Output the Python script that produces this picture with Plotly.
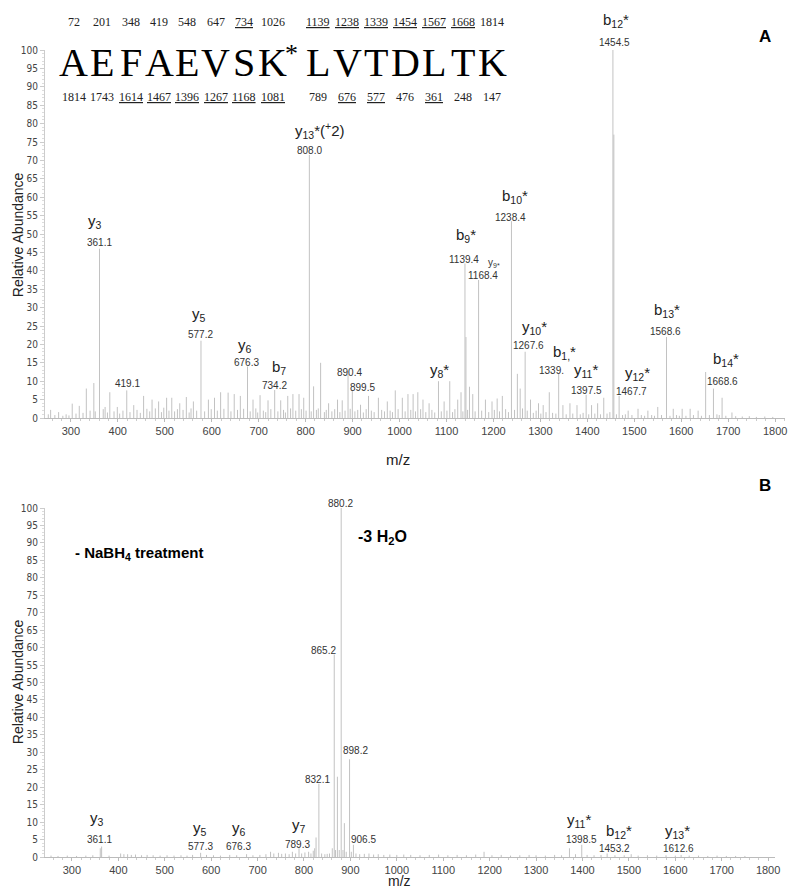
import plotly.graph_objects as go

# ---- panel A: MS/MS spectrum (m/z, relative abundance) ----
mz_a = [252, 257, 266, 274, 283, 290, 296, 303, 311, 318, 326, 333, 341, 349, 352,
        361.1, 369, 373, 378, 383, 392, 399, 404, 411, 419.1, 426, 434, 441, 448, 455,
        462, 468, 473, 480, 487, 493, 498, 504, 509, 515, 521, 527, 532, 539, 546,
        552, 556, 561, 568, 577.2, 585, 593, 599, 606, 612, 619, 626, 635, 641, 648,
        655, 661, 668, 676.3, 682, 688, 694, 698, 703, 710, 715, 720, 726, 734.2, 741,
        747, 753, 757, 762, 768, 773, 779, 786, 791, 796, 801, 808.0, 812, 817, 823,
        827, 832, 840, 844, 849, 856, 862, 868, 873, 878, 884, 890.4, 895, 899.5, 905,
        911, 917, 923, 929, 934, 940, 946, 955, 962, 968, 974, 980, 985, 991, 997,
        1006, 1012, 1018, 1024, 1029, 1034, 1039, 1045, 1050, 1056, 1063, 1069, 1075, 1083, 1089,
        1095, 1101, 1107, 1113, 1118, 1124, 1131, 1135, 1139.4, 1141.5, 1145, 1149, 1156, 1161, 1168.4,
        1175, 1183, 1190, 1197, 1202, 1208, 1213, 1219, 1226, 1232, 1238.4, 1245, 1251, 1257, 1262,
        1267.6, 1272, 1279, 1285, 1291, 1296, 1301, 1306, 1312, 1319, 1326, 1333, 1339, 1348, 1355,
        1363, 1369, 1378, 1385, 1391, 1397.5, 1403, 1409, 1416, 1422, 1428, 1435, 1442, 1448, 1454.5,
        1456.5, 1462, 1467.7, 1475, 1481, 1487, 1495, 1508, 1515, 1522, 1529, 1537, 1543, 1550, 1558,
        1568.6, 1576, 1583, 1590, 1596, 1602, 1610, 1619, 1626, 1636, 1643, 1652, 1660, 1668.6, 1676,
        1681, 1687, 1695, 1708, 1716, 1730, 1745, 1760, 1778, 1795]
int_a = [1.0, 2.2, 0.8, 1.6, 0.6, 1.0, 0.7, 3.9, 1.2, 3.3, 1.4, 8.0, 2.0, 9.5, 1.8,
         46.0, 2.4, 3.0, 1.5, 7.0, 1.8, 3.0, 1.2, 2.0, 7.5, 1.6, 3.5, 2.2, 1.4, 6.0,
         2.5, 1.8, 5.0, 2.6, 4.5, 1.6, 2.8, 5.5, 2.0, 5.5, 1.8, 2.4, 4.0, 2.2, 5.7,
         1.5, 2.6, 4.5, 2.0, 21.0, 1.8, 5.0, 2.4, 5.5, 2.0, 7.0, 2.5, 6.9, 1.8, 6.5,
         2.2, 6.0, 2.5, 14.0, 1.8, 5.0, 2.6, 1.5, 6.2, 2.0, 1.6, 4.8, 2.4, 7.6, 1.8,
         4.8, 2.2, 1.5, 6.0, 2.6, 6.5, 2.0, 6.5, 2.4, 5.5, 2.0, 71.5, 1.8, 8.6, 2.2,
         2.6, 15.0, 1.6, 2.2, 4.0, 1.8, 2.4, 5.0, 1.6, 4.8, 2.0, 12.0, 2.5, 7.5, 1.8,
         2.2, 3.6, 1.5, 2.4, 6.0, 2.0, 1.6, 5.5, 2.2, 1.8, 4.5, 2.0, 1.6, 7.5, 2.4,
         5.5, 1.8, 6.5, 2.2, 6.5, 1.8, 7.0, 2.4, 5.0, 1.6, 4.0, 2.2, 1.5, 10.0, 1.8,
         4.5, 2.0, 10.0, 1.6, 2.4, 5.0, 7.0, 1.8, 42.0, 22.0, 2.2, 8.5, 6.5, 1.8, 37.5,
         2.0, 5.0, 1.6, 4.5, 2.2, 5.3, 1.8, 6.0, 2.4, 1.6, 53.5, 2.2, 12.0, 8.0, 2.6,
         18.0, 2.0, 5.0, 1.4, 2.0, 4.0, 1.2, 3.5, 1.6, 7.0, 1.4, 1.2, 12.0, 3.5, 1.0,
         4.0, 1.2, 3.5, 1.0, 1.4, 6.3, 1.0, 3.5, 1.2, 4.0, 1.0, 5.5, 1.2, 1.6, 100.0,
         77.0, 1.0, 6.0, 0.8, 1.0, 2.0, 0.8, 2.5, 0.8, 0.6, 2.0, 0.8, 0.6, 3.0, 0.8,
         22.0, 0.6, 2.5, 0.8, 0.6, 2.5, 0.6, 2.5, 0.8, 2.0, 0.6, 12.5, 0.8, 8.0, 1.0,
         0.8, 5.5, 0.6, 1.5, 0.5, 0.4, 0.5, 0.3, 0.4, 0.3]

# ---- panel B: after NaBH4 treatment ----
mz_b = [255, 270, 290, 310, 330, 345, 361.1, 364, 380, 405, 412, 420, 428, 437, 450,
        462, 475, 490, 505, 520, 535, 548, 560, 577.3, 590, 605, 620, 640, 655, 676.3,
        690, 705, 718, 728, 735, 745, 752, 760, 768, 775, 782, 789.3, 795, 802, 810,
        815, 820, 823, 826, 832.1, 838, 845, 850, 855, 861, 865.2, 868, 872, 876, 880.2,
        884, 887, 891, 898.2, 902, 906.5, 912, 920, 930, 940, 950, 960, 972, 985, 1000,
        1015, 1030, 1050, 1070, 1090, 1110, 1130, 1150, 1170, 1188, 1205, 1225, 1245, 1265, 1285,
        1300, 1320, 1340, 1355, 1372, 1385, 1398.5, 1410, 1425, 1440, 1453.2, 1470, 1490, 1505, 1520,
        1540, 1560, 1580, 1600, 1612.6, 1630, 1650, 1670, 1690, 1710, 1730, 1750]
int_b = [0.4, 0.3, 0.4, 0.3, 0.4, 0.5, 2.5, 3.0, 0.4, 1.0, 0.8, 0.8, 0.6, 0.7, 0.5,
         0.6, 0.5, 0.4, 0.5, 0.4, 0.5, 0.4, 0.6, 1.2, 0.6, 0.5, 0.4, 0.6, 0.5, 0.8,
         0.5, 0.6, 0.8, 1.5, 1.0, 1.2, 0.9, 1.0, 0.8, 1.5, 1.0, 2.5, 1.0, 1.3, 1.5,
         1.0, 1.8, 2.5, 5.6, 21.0, 1.0, 0.8, 0.9, 1.0, 2.5, 58.0, 2.0, 23.0, 2.0, 100.0,
         2.0, 9.7, 1.5, 28.0, 1.5, 3.5, 1.0, 0.8, 0.9, 1.0, 0.7, 0.8, 0.6, 0.7, 0.6,
         0.7, 0.6, 0.5, 0.6, 0.7, 0.5, 0.6, 0.5, 0.7, 1.5, 0.5, 0.6, 0.4, 0.5, 0.6,
         0.5, 0.4, 0.6, 0.5, 2.5, 0.8, 3.5, 0.6, 0.5, 0.6, 1.0, 0.5, 0.5, 0.8, 0.4,
         0.5, 0.4, 0.5, 0.4, 0.6, 0.4, 0.4, 0.3, 0.4, 0.3, 0.3, 0.3]

# peptide sequence with b / y fragment masses
seq = ["A", "E", "F", "A", "E", "V", "S", "K", "L", "V", "T", "D", "L", "T", "K"]
b_ions = [72, 201, 348, 419, 548, 647, 734, 1026, 1139, 1238, 1339, 1454, 1567, 1668, 1814]
y_ions = [1814, 1743, 1614, 1467, 1396, 1267, 1168, 1081, 789, 676, 577, 476, 361, 248, 147]
b_seen = [734, 1139, 1238, 1339, 1454, 1567, 1668]
y_seen = [1614, 1467, 1396, 1267, 1168, 1081, 676, 577, 361]

# peak annotations: (text, m/z, abundance, font size, extra px shift up)
labels_a = [
    ("y<sub>3</sub>", 351, 53.3, 15, 0), ("361.1", 361, 47.6, 10, 0),
    ("419.1", 420, 9.5, 10, 0),
    ("y<sub>5</sub>", 573, 28, 15, 0), ("577.2", 577, 22.6, 10, 0),
    ("y<sub>6</sub>", 672, 19.6, 15, 0), ("676.3", 674, 15.2, 10, 0),
    ("b<sub>7</sub>", 744, 13.6, 15, 0), ("734.2", 734, 8.7, 10, 0),
    ("y<sub>13</sub>*(<sup>+</sup>2)", 831, 78, 15, 0), ("808.0", 808, 72.8, 10, 0),
    ("890.4", 894, 12.5, 10, 0), ("899.5", 922, 8.2, 10, 0),
    ("y<sub>8</sub>*", 1085, 13, 15, 0),
    ("b<sub>9</sub>*", 1142, 49.7, 15, 0), ("1139.4", 1138, 43.2, 10, 0),
    ("y<sub>9*</sub>", 1201, 42.1, 10, 0), ("1168.4", 1178, 38.6, 10, 0),
    ("b<sub>10</sub>*", 1246, 60.3, 15, 0), ("1238.4", 1237, 54.6, 10, 0),
    ("y<sub>10</sub>*", 1288, 24.5, 15, 0), ("1267.6", 1275, 19.6, 10, 0),
    ("b<sub>1,</sub>*", 1351, 17.7, 15, 0), ("1339.", 1324, 13, 10, 0),
    ("y<sub>11</sub>*", 1398, 13, 15, 0), ("1397.5", 1398, 7.6, 10, 0),
    ("b<sub>12</sub>*", 1461, 100, 15, 30), ("1454.5", 1457, 100, 10, 8),
    ("y<sub>12</sub>*", 1506, 12.2, 15, 0), ("1467.7", 1495, 7.3, 10, 0),
    ("b<sub>13</sub>*", 1569, 29.3, 15, 0), ("1568.6", 1567, 23.6, 10, 0),
    ("b<sub>14</sub>*", 1696, 15.8, 15, 0), ("1668.6", 1688, 9.8, 10, 0),
]
labels_b = [
    ("880.2", 879, 100, 10, 5), ("865.2", 843, 59.3, 10, 0), ("898.2", 911, 30.4, 10, 0),
    ("832.1", 830, 22.3, 10, 0), ("906.5", 928, 4.9, 10, 0),
    ("y<sub>3</sub>", 355, 10.9, 15, 0), ("361.1", 359, 4.9, 10, 0),
    ("y<sub>5</sub>", 575, 8.3, 15, 0), ("577.3", 577, 2.9, 10, 0),
    ("y<sub>6</sub>", 661, 8.3, 15, 0), ("676.3", 659, 2.9, 10, 0),
    ("y<sub>7</sub>", 789, 8.9, 15, 0), ("789.3", 787, 3.7, 10, 0),
    ("y<sub>11</sub>*", 1393, 10.6, 15, 0), ("1398.5", 1397, 4.9, 10, 0),
    ("b<sub>12</sub>*", 1478, 7.4, 15, 0), ("1453.2", 1470, 2.3, 10, 0),
    ("y<sub>13</sub>*", 1605, 7.4, 15, 0), ("1612.6", 1607, 2.3, 10, 0),
]


def sticks(mz, ab):
    xs, ys = [], []
    for m, a in zip(mz, ab):
        xs += [m, m, None]
        ys += [0, a, None]
    return xs, ys


# the page body adds an 8px margin, so the figure is 784x880 and sits at (8, 8);
# plot area in window pixels: x 45..790, y 50..857
FW, FH = 784, 880
L, T = 45 - 8, 50 - 8
R, B = FW - (790 - 8), FH - (857 - 8)
W, H = FW - L - R, FH - T - B


def px(x, y):
    # window pixel -> paper coordinates
    return (x - 45) / W, (857 - y) / H


fig = go.Figure()
xa, ya = sticks(mz_a, int_a)
xb, yb = sticks(mz_b, int_b)
fig.add_trace(go.Scatter(x=xa, y=ya, mode="lines", line=dict(color="#c2c2c2", width=1),
                         hoverinfo="skip", xaxis="x", yaxis="y"))
fig.add_trace(go.Scatter(x=xb, y=yb, mode="lines", line=dict(color="#c2c2c2", width=1),
                         hoverinfo="skip", xaxis="x2", yaxis="y2"))

tickfont = dict(family="Liberation Sans Narrow, DejaVu Sans Condensed, sans-serif", size=10, color="#444")
xfont = dict(family="Liberation Sans, Arial, sans-serif", size=11, color="#444")
common_x = dict(dtick=100, tick0=0, showgrid=False, zeroline=False, showline=True,
                linecolor="#bbb", linewidth=1, ticks="outside", ticklen=3, tickcolor="#bbb",
                minor=dict(dtick=20, ticks="outside", ticklen=2, tickcolor="#ccc"),
                tickfont=xfont)
common_y = dict(range=[0, 100], dtick=5, showgrid=False, zeroline=False, showline=True,
                linecolor="#ccc", linewidth=1, ticks="outside", ticklen=4, tickcolor="#ccc",
                minor=dict(dtick=1, ticks="outside", ticklen=2, tickcolor="#ddd"),
                tickfont=tickfont)

ya_bot = (857 - 418) / H
yb_top = (857 - 508) / H
fig.update_layout(
    width=FW, height=FH, margin=dict(l=L, r=R, t=T, b=B),
    plot_bgcolor="white", paper_bgcolor="white", showlegend=False,
    xaxis=dict(domain=[0, 1], anchor="y", range=[245, 1821], **common_x),
    yaxis=dict(domain=[ya_bot, 1], anchor="x", **common_y),
    xaxis2=dict(domain=[0, (780 - 45) / W], anchor="y2", range=[242, 1815], **common_x),
    yaxis2=dict(domain=[0, yb_top], anchor="x2", **common_y),
)

ann = []
lab_font = "Liberation Sans, Arial, sans-serif"
for labels, xr, yr in [(labels_a, "x", "y"), (labels_b, "x2", "y2")]:
    for text, x, y, s, up in labels:
        ann.append(dict(text=text, x=x, y=y, xref=xr, yref=yr, showarrow=False,
                        xanchor="center", yanchor="middle", yshift=up,
                        font=dict(family=lab_font, size=s, color="#222" if s > 12 else "#333")))


def paper_text(text, xx, yy, size, family, color="black", anchor="center", angle=0):
    x0, y0 = px(xx, yy)
    ann.append(dict(text=text, x=x0, y=y0, xref="paper", yref="paper", showarrow=False,
                    xanchor=anchor, yanchor="middle", textangle=angle,
                    font=dict(family=family, size=size, color=color)))


# sequence with fragment masses
serif = "Liberation Serif, Times New Roman, serif"
for i, aa in enumerate(seq):
    xp = 74 + 28.6 * i if i < 8 else 320 + 29.2 * (i - 8)
    paper_text(aa, xp, 63, 40, serif)
    bt = str(b_ions[i])
    if b_ions[i] in b_seen:
        bt = "<u>" + bt + "</u>"
    paper_text(bt, xp, 22, 12, serif, "#222")
    yt = str(y_ions[i])
    if y_ions[i] in y_seen:
        yt = "<u>" + yt + "</u>"
    paper_text(yt, xp, 97, 12, serif, "#222")
paper_text("*", 293, 53, 26, serif)

bold = "Liberation Sans, Arial, sans-serif"
paper_text("<b>A</b>", 770, 36, 17, bold)
paper_text("<b>B</b>", 770, 485, 17, bold)
paper_text("<b>- NaBH<sub>4</sub> treatment</b>", 73, 553, 15, bold, anchor="left")
paper_text("<b>-3 H<sub>2</sub>O</b>", 358, 537, 16, bold, anchor="left")

paper_text("m/z", 400, 460, 15, lab_font, "#222")
paper_text("m/z", 402, 881, 14, lab_font, "#222")
for yy in [235, 682]:
    paper_text("Relative Abundance", 18, yy, 14, lab_font, "#222", angle=-90)

fig.update_layout(annotations=ann)
fig.write_html("out.html")
